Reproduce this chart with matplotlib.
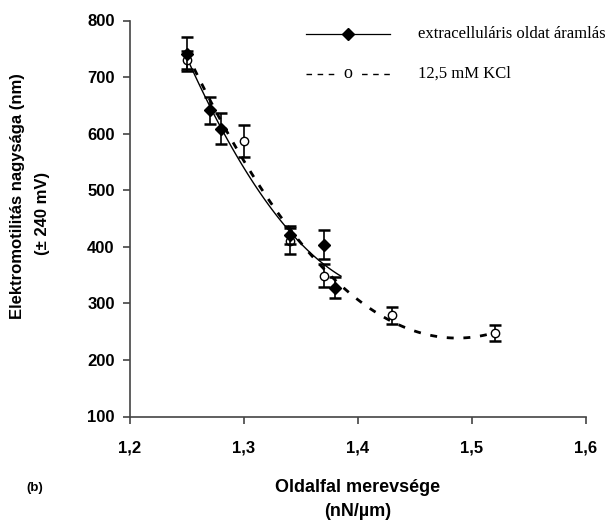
import numpy as np
import matplotlib.pyplot as plt

# extracelluláris oldat áramlás (filled diamonds)
x_ext = [1.25, 1.27, 1.28, 1.34, 1.37, 1.38]
y_ext = [740, 641, 609, 421, 404, 328]
e_ext = [30, 24, 27, 16, 25, 19]

# 12,5 mM KCl (open circles)
x_kcl = [1.25, 1.30, 1.34, 1.37, 1.43, 1.52]
y_kcl = [730, 587, 410, 349, 279, 247]
e_kcl = [16, 29, 23, 20, 15, 14]

x_ticks = [1.2, 1.3, 1.4, 1.5, 1.6]
y_ticks = [100, 200, 300, 400, 500, 600, 700, 800]

plt.rcParams['font.family'] = ['Liberation Sans', 'DejaVu Sans']

fig = plt.figure(figsize=(6.06, 5.23), dpi=100)
ax = fig.add_axes([130 / 606, 1 - 416.5 / 523, 456 / 606, 396 / 523])

# trend lines (polynomial fits)
p_ext = np.polyfit(x_ext, y_ext, 2)
xs = np.linspace(min(x_ext), max(x_ext) + 0.005, 100)
ax.plot(xs, np.polyval(p_ext, xs), color='black', linewidth=1.0)

p_kcl = np.polyfit(x_kcl, y_kcl, 2)
xs2 = np.linspace(min(x_kcl), max(x_kcl), 100)
ax.plot(xs2, np.polyval(p_kcl, xs2), color='black', linewidth=2.0,
        linestyle=(0, (2.5, 3.5)))

ax.errorbar(x_ext, y_ext, yerr=e_ext, fmt='D', color='black', markersize=6,
            ecolor='black', elinewidth=1.2, capsize=4, capthick=1.8, zorder=4)
ax.errorbar(x_kcl, y_kcl, yerr=e_kcl, fmt='o', color='black', markersize=6,
            markerfacecolor='white', ecolor='black', elinewidth=1.2,
            capsize=4, capthick=1.8, zorder=3)

ax.set_xlim(1.2, 1.6)
ax.set_ylim(100, 800)
ax.set_xticks(x_ticks)
ax.set_xticklabels([f'{t:.1f}'.replace('.', ',') for t in x_ticks])
ax.set_yticks(y_ticks)
for s in ['top', 'right']:
    ax.spines[s].set_visible(False)
for s in ['left', 'bottom']:
    ax.spines[s].set_color('#444444')
    ax.spines[s].set_linewidth(1.2)
ax.tick_params(direction='out', length=5, width=1.2, color='#444444',
               labelsize=12)
ax.tick_params(axis='x', pad=12)
ax.tick_params(axis='y', pad=6)
for lbl in ax.get_xticklabels() + ax.get_yticklabels():
    lbl.set_fontweight('bold')

# axis labels
fig.text(358 / 606, 1 - 487 / 523, 'Oldalfal merevsége', ha='center',
         va='center', fontsize=13, fontweight='bold')
fig.text(358 / 606, 1 - 512 / 523, '(nN/µm)', ha='center', va='center',
         fontsize=13, fontweight='bold')
fig.text(35 / 606, 1 - 488 / 523, '(b)', ha='center', va='center',
         fontsize=9.5, fontweight='bold')
fig.text(18 / 606, 1 - 196 / 523, 'Elektromotilitás nagysága (nm)',
         rotation=90, ha='center', va='center', fontsize=12, fontweight='bold')
fig.text(43 / 606, 1 - 213 / 523, '(± 240 mV)', rotation=90, ha='center',
         va='center', fontsize=12, fontweight='bold')

# legend drawn by hand in figure coordinates
lx0, lx1 = 306 / 606, 390 / 606
ly1, ly2 = 1 - 34 / 523, 1 - 74 / 523
fig.lines.append(plt.Line2D([lx0, lx1], [ly1, ly1], color='black',
                            linewidth=0.9, transform=fig.transFigure))
fig.lines.append(plt.Line2D([(lx0 + lx1) / 2], [ly1], marker='D',
                            markersize=6, color='black',
                            transform=fig.transFigure))
fig.lines.append(plt.Line2D([lx0, lx1], [ly2, ly2], color='black',
                            linewidth=1.0, linestyle=(0, (4, 4)),
                            transform=fig.transFigure))
fig.text((lx0 + lx1) / 2, ly2, 'o', ha='center', va='center', fontsize=13,
         family='Liberation Serif', backgroundcolor='white')
fig.text(418 / 606, ly1, 'extracelluláris oldat áramlás', ha='left',
         va='center', fontsize=12, family='Liberation Serif')
fig.text(418 / 606, ly2, '12,5 mM KCl', ha='left', va='center', fontsize=12,
         family='Liberation Serif')

fig.savefig('out.png', dpi=100)
